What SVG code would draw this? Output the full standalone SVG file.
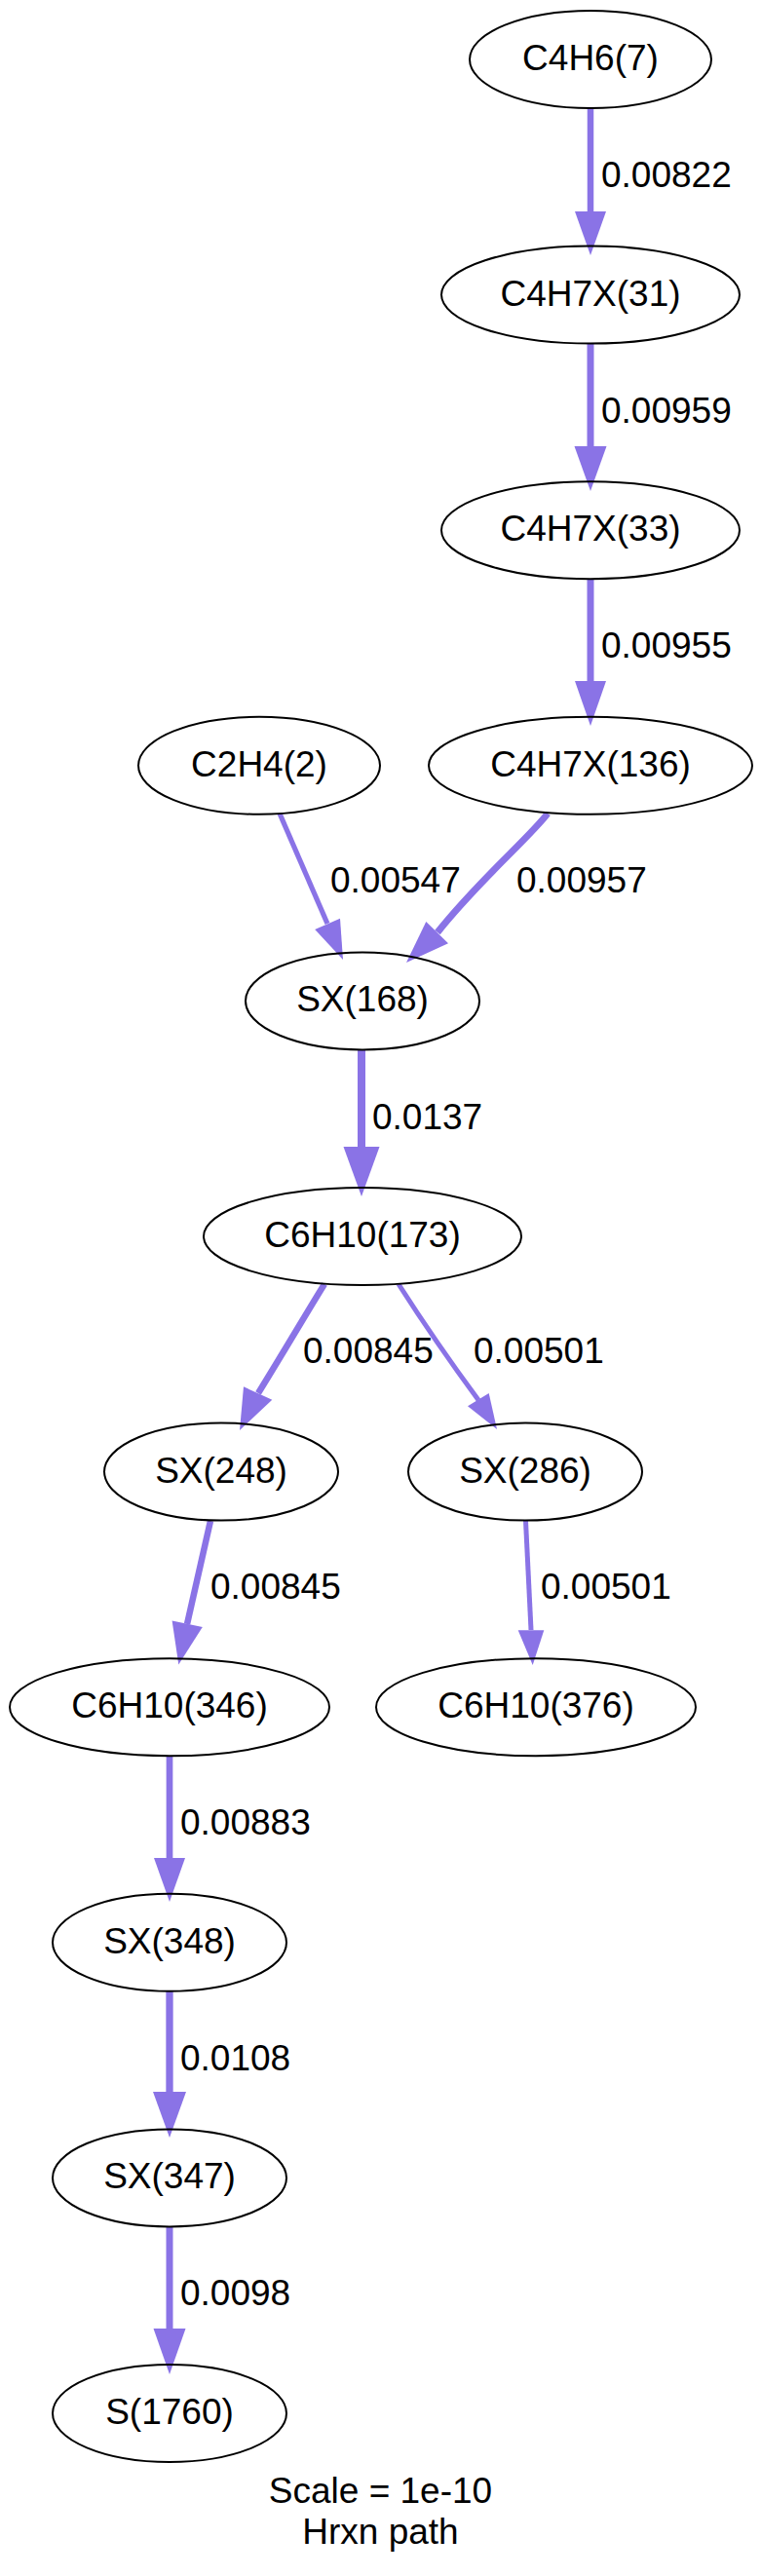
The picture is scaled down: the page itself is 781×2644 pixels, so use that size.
<svg xmlns="http://www.w3.org/2000/svg" width="781" height="2644" viewBox="0 0 781 2644">
<style>
.node ellipse{fill:none;stroke:#000;stroke-width:2}
.node text{font-family:"Liberation Sans",Arial,sans-serif;font-size:37px;text-anchor:middle;fill:#000}
.edge path{fill:none;stroke:#8a73e6}
.edge polygon{fill:#8a73e6;stroke:none}
.lbl{font-family:"Liberation Sans",Arial,sans-serif;font-size:37px;fill:#000}
.title{font-family:"Liberation Sans",Arial,sans-serif;font-size:37px;text-anchor:middle;fill:#000}
</style>
<rect width="781" height="2644" fill="#fff"/>
<g id="edges">
<g class="edge" id="e1"><path d="M606,111 V217" stroke-width="6.5"/><polygon points="590,217 622,217 606,262"/></g>
<g class="edge" id="e2"><path d="M606,352.6 V458" stroke-width="7"/><polygon points="589.5,458 622.5,458 606,504"/></g>
<g class="edge" id="e3"><path d="M606,594.2 V699" stroke-width="7"/><polygon points="590,699 622,699 606,745"/></g>
<g class="edge" id="e4"><path d="M287,835 L336,948" stroke-width="5.2"/><polygon points="323.2,953.9 349,942.7 352,985"/></g>
<g class="edge" id="e5"><path d="M562,835 C545,858 490,905 449,957" stroke-width="7"/><polygon points="460,968.3 437.3,946 417,988"/></g>
<g class="edge" id="e6"><path d="M371,1077.4 V1177" stroke-width="8"/><polygon points="352.5,1177 389.5,1177 371,1228"/></g>
<g class="edge" id="e7"><path d="M333,1318 C318,1342 297,1378 265,1430" stroke-width="6.5"/><polygon points="279.3,1436.7 250,1423.3 246,1468"/></g>
<g class="edge" id="e8"><path d="M409,1318 C425,1343 460,1395 491,1437" stroke-width="5"/><polygon points="480,1443.3 501.7,1430 510,1467"/></g>
<g class="edge" id="e9"><path d="M216,1561 L192,1667" stroke-width="6.5"/><polygon points="207.8,1670 176.6,1663.4 183.3,1708.5"/></g>
<g class="edge" id="e10"><path d="M539.5,1561 L545,1673" stroke-width="5"/><polygon points="531.7,1673.3 558.3,1673.3 546.7,1709"/></g>
<g class="edge" id="e11"><path d="M174,1802.2 V1907" stroke-width="6.7"/><polygon points="158,1907 190,1907 174,1952"/></g>
<g class="edge" id="e12"><path d="M174,2043.8 V2147" stroke-width="7.3"/><polygon points="157,2147 191,2147 174,2194"/></g>
<g class="edge" id="e13"><path d="M174,2285.4 V2390" stroke-width="7"/><polygon points="157.5,2390 190.5,2390 174,2437"/></g>
<text class="lbl" x="617" y="192">0.00822</text>
<text class="lbl" x="617" y="434">0.00959</text>
<text class="lbl" x="617" y="675">0.00955</text>
<text class="lbl" x="339" y="915.5">0.00547</text>
<text class="lbl" x="530" y="915.5">0.00957</text>
<text class="lbl" x="382" y="1159">0.0137</text>
<text class="lbl" x="311" y="1399">0.00845</text>
<text class="lbl" x="486" y="1399">0.00501</text>
<text class="lbl" x="216" y="1641">0.00845</text>
<text class="lbl" x="555" y="1641">0.00501</text>
<text class="lbl" x="185" y="1883">0.00883</text>
<text class="lbl" x="185" y="2125">0.0108</text>
<text class="lbl" x="185" y="2366">0.0098</text>
</g>
<g class="node" id="C4H6_7"><ellipse cx="606" cy="61" rx="124" ry="50"/><text x="606" y="72">C4H6(7)</text></g>
<g class="node" id="C4H7X_31"><ellipse cx="606" cy="302.6" rx="153" ry="50"/><text x="606" y="313.6">C4H7X(31)</text></g>
<g class="node" id="C4H7X_33"><ellipse cx="606" cy="544.2" rx="153" ry="50"/><text x="606" y="555.2">C4H7X(33)</text></g>
<g class="node" id="C2H4_2"><ellipse cx="266" cy="785.8" rx="124" ry="50"/><text x="266" y="796.8">C2H4(2)</text></g>
<g class="node" id="C4H7X_136"><ellipse cx="606" cy="785.8" rx="166" ry="50"/><text x="606" y="796.8">C4H7X(136)</text></g>
<g class="node" id="SX_168"><ellipse cx="372" cy="1027.4" rx="120" ry="50"/><text x="372" y="1038.4">SX(168)</text></g>
<g class="node" id="C6H10_173"><ellipse cx="372" cy="1269" rx="163" ry="50"/><text x="372" y="1280">C6H10(173)</text></g>
<g class="node" id="SX_248"><ellipse cx="227" cy="1510.6" rx="120" ry="50"/><text x="227" y="1521.6">SX(248)</text></g>
<g class="node" id="SX_286"><ellipse cx="539" cy="1510.6" rx="120" ry="50"/><text x="539" y="1521.6">SX(286)</text></g>
<g class="node" id="C6H10_346"><ellipse cx="174" cy="1752.2" rx="164" ry="50"/><text x="174" y="1763.2">C6H10(346)</text></g>
<g class="node" id="C6H10_376"><ellipse cx="550" cy="1752.2" rx="164" ry="50"/><text x="550" y="1763.2">C6H10(376)</text></g>
<g class="node" id="SX_348"><ellipse cx="174" cy="1993.8" rx="120" ry="50"/><text x="174" y="2004.8">SX(348)</text></g>
<g class="node" id="SX_347"><ellipse cx="174" cy="2235.4" rx="120" ry="50"/><text x="174" y="2246.4">SX(347)</text></g>
<g class="node" id="S_1760"><ellipse cx="174" cy="2477" rx="120" ry="50"/><text x="174" y="2488">S(1760)</text></g>
<g id="graph-label">
<text class="title" x="390.5" y="2569">Scale = 1e-10</text>
<text class="title" x="390.5" y="2611">Hrxn path</text>
</g>
</svg>
